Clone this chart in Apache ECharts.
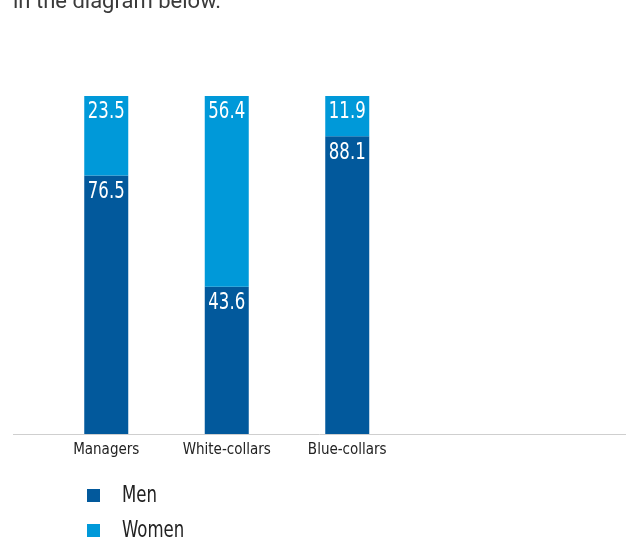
<!DOCTYPE html>
<html>
<head>
<meta charset="utf-8">
<script src="https://cdn.jsdelivr.net/npm/echarts@6/dist/echarts.min.js"></script>
<style>
  html, body { margin: 0; padding: 0; background: #fff; }
  #chart { width: 626px; height: 537px; }
</style>
</head>
<body>
<div id="chart"></div>
<script>
// Share of employees by gender in each job group (%)
const categories = ['Managers', 'White-collars', 'Blue-collars'];
const menValues = [76.5, 43.6, 88.1];
const womenValues = [23.5, 56.4, 11.9];
const seriesNames = ['Men', 'Women'];

const COLOR_MEN = '#02599c';
const COLOR_WOMEN = '#0099d9';
const seriesColors = [COLOR_MEN, COLOR_WOMEN];
const NARROW = '"DejaVu Sans Condensed", "DejaVu Sans", sans-serif';

const chart = echarts.init(document.getElementById('chart'), null, { renderer: 'canvas' });

// Value labels: condensed white numbers placed just inside the top of each segment.
// Each item is [categoryIndex, segmentTop, segmentValue].
const menLabelData = menValues.map((v, i) => [i, v, v]);
const womenLabelData = womenValues.map((v, i) => [i, menValues[i] + v, v]);

function renderValueLabel(params, api) {
  const pt = api.coord([api.value(0), api.value(1)]);
  return {
    type: 'text',
    x: pt[0],
    y: pt[1] + 5,
    scaleX: 0.8,
    style: {
      text: api.value(2).toFixed(1),
      fill: '#ffffff',
      font: '23px ' + NARROW,
      align: 'center',
      verticalAlign: 'top'
    }
  };
}

// Vertical legend below the plot: square swatch + condensed name per series.
const legendGraphics = [];
seriesNames.forEach((name, i) => {
  const y = 489 + i * 35;
  legendGraphics.push({
    type: 'rect',
    shape: { x: 87, y: y, width: 13, height: 13 },
    style: { fill: seriesColors[i] }
  });
  legendGraphics.push({
    type: 'text',
    x: 122,
    y: y + 7,
    scaleX: 0.8,
    style: {
      text: name,
      font: '23px ' + NARROW,
      fill: '#222222',
      align: 'left',
      verticalAlign: 'middle'
    }
  });
});

chart.setOption({
  animation: false,
  graphic: [
    {
      type: 'text',
      left: 13,
      top: -9,
      style: { text: 'in the diagram below.', fontFamily: 'Roboto, sans-serif', fontSize: 22, fill: '#3a3a3a' }
    },
    {
      type: 'line',
      shape: { x1: 13, y1: 434.5, x2: 626, y2: 434.5 },
      style: { stroke: '#cfcfcf', lineWidth: 1 },
      z: 10
    }
  ].concat(legendGraphics),
  grid: { left: 46, top: 96, width: 361.5, height: 338 },
  xAxis: {
    type: 'category',
    data: categories,
    axisLine: { show: false },
    axisTick: { show: false },
    axisLabel: { interval: 0, fontFamily: NARROW, fontSize: 15, color: '#222', margin: 9 }
  },
  yAxis: {
    type: 'value',
    min: 0,
    max: 100,
    show: false,
    splitLine: { show: false }
  },
  series: [
    {
      name: seriesNames[0],
      type: 'bar',
      stack: 'share',
      barWidth: 44,
      data: menValues,
      itemStyle: { color: COLOR_MEN }
    },
    {
      name: seriesNames[1],
      type: 'bar',
      stack: 'share',
      barWidth: 44,
      data: womenValues,
      itemStyle: { color: COLOR_WOMEN }
    },
    {
      type: 'custom',
      renderItem: renderValueLabel,
      data: menLabelData,
      z: 5,
      silent: true
    },
    {
      type: 'custom',
      renderItem: renderValueLabel,
      data: womenLabelData,
      z: 5,
      silent: true
    }
  ]
});
</script>
</body>
</html>
